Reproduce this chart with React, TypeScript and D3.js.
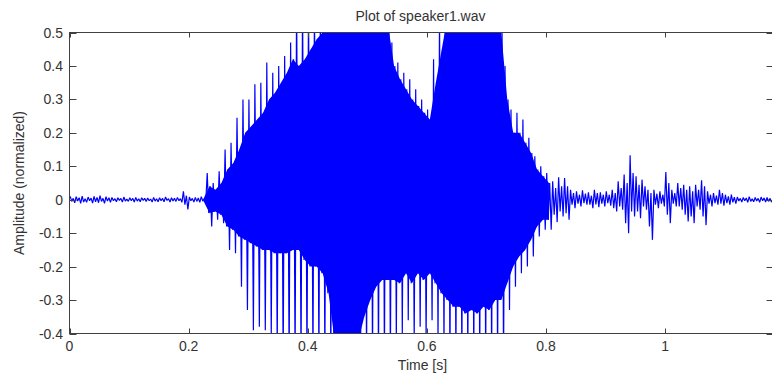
import React from "react";
import * as d3 from "d3";

// Envelope of the waveform, per 10 ms bin:
// outer max/min (spike tips) and inner max/min (edge of the solid body) in each bin
const BIN = 0.01;
const peakHi = [
  0.010, 0.009, 0.011, 0.008, 0.010, 0.012, 0.009,
  0.007, 0.006, 0.008, 0.006, 0.007, 0.006, 0.005, 0.007, 0.006, 0.008, 0.006, 0.007,
  0.025,
  0.008, 0.007, 0.009,
  0.08, 0.05, 0.085, 0.15, 0.17, 0.245, 0.30, 0.30, 0.345, 0.35, 0.41, 0.38, 0.40, 0.43, 0.47,
  0.6, 0.6, 0.6, 0.6, 0.6, 0.6, 0.6, 0.6, 0.6, 0.6, 0.6, 0.6, 0.6, 0.6, 0.6, 0.6,
  0.47, 0.41, 0.38, 0.36, 0.33, 0.30, 0.27, 0.42, 0.55,
  0.6, 0.6, 0.6, 0.6, 0.6, 0.6, 0.6, 0.6, 0.6, 0.6,
  0.40, 0.27, 0.26, 0.24, 0.185, 0.13, 0.10, 0.08, 0.055, 0.067, 0.065, 0.03, 0.025, 0.028,
  0.022, 0.03, 0.022, 0.025, 0.03, 0.055, 0.075, 0.133, 0.07, 0.06, 0.03, 0.03, 0.025,
  0.083, 0.03, 0.05, 0.045, 0.04, 0.045, 0.058, 0.025, 0.02, 0.03, 0.015, 0.015,
  0.008, 0.007, 0.009, 0.007, 0.008, 0.007,
];
const peakLo = [
  -0.009, -0.011, -0.008, -0.010, -0.009, -0.011, -0.008,
  -0.006, -0.007, -0.005, -0.007, -0.006, -0.005, -0.007, -0.006, -0.006, -0.007, -0.005, -0.008,
  -0.029,
  -0.007, -0.008, -0.007,
  -0.08, -0.06, -0.07, -0.15, -0.16, -0.26, -0.33, -0.39, -0.38, -0.39, -0.41, -0.45, -0.5, -0.5, -0.5,
  -0.5, -0.5, -0.5, -0.5, -0.5, -0.5, -0.5, -0.5, -0.5, -0.5, -0.5, -0.5, -0.5, -0.5, -0.5, -0.5,
  -0.42, -0.40, -0.36, -0.42, -0.38, -0.42, -0.36, -0.42, -0.45,
  -0.5, -0.5, -0.5, -0.5, -0.5, -0.5, -0.5, -0.5, -0.5, -0.5,
  -0.33, -0.26, -0.22, -0.20, -0.17, -0.11, -0.09, -0.09, -0.067, -0.05, -0.06, -0.025, -0.02, -0.015,
  -0.025, -0.022, -0.02, -0.018, -0.035, -0.03, -0.10, -0.05, -0.055, -0.03, -0.12, -0.025, -0.02,
  -0.07, -0.02, -0.03, -0.065, -0.07, -0.03, -0.076, -0.02, -0.015, -0.018, -0.015, -0.012,
  -0.007, -0.008, -0.006, -0.008, -0.007, -0.008,
];
const innerHi = [
  0.004, 0.006, 0.003, 0.005, 0.007, 0.004, 0.006,
  0.003, 0.004, 0.002, 0.004, 0.003, 0.004, 0.002, 0.003, 0.004, 0.003, 0.004, 0.003,
  0.012,
  0.004, 0.005, 0.003,
  0.04, 0.03, 0.05, 0.09, 0.11, 0.15, 0.2, 0.22, 0.24, 0.26, 0.3, 0.32, 0.35, 0.38, 0.42,
  0.4, 0.42, 0.45, 0.48, 0.5, 0.55, 0.6, 0.6, 0.6, 0.6, 0.6, 0.6, 0.6, 0.6, 0.6, 0.52,
  0.4, 0.36, 0.33, 0.3, 0.28, 0.26, 0.24, 0.35, 0.45,
  0.55, 0.6, 0.6, 0.6, 0.6, 0.6, 0.6, 0.55, 0.6, 0.5,
  0.3, 0.2, 0.2, 0.17, 0.14, 0.09, 0.07, 0.05, 0.035, 0.04,
  0.04, 0.02, 0.015, 0.018, 0.012, 0.02, 0.015, 0.015, 0.02, 0.035,
  0.05, 0.08, 0.045, 0.04, 0.02, 0.018, 0.015, 0.05, 0.02, 0.035,
  0.03, 0.025, 0.03, 0.04, 0.015, 0.012, 0.02, 0.01, 0.008,
  0.004, 0.005, 0.003, 0.004, 0.005, 0.004,
];
const innerLo = [
  -0.005, -0.004, -0.007, -0.003, -0.006, -0.005, -0.004,
  -0.003, -0.002, -0.004, -0.003, -0.004, -0.002, -0.003, -0.004, -0.003, -0.002, -0.004, -0.003,
  -0.015,
  -0.003, -0.005, -0.004,
  -0.04, -0.035, -0.045, -0.08, -0.09, -0.11, -0.12, -0.13, -0.14, -0.15, -0.15, -0.16, -0.16, -0.16, -0.15,
  -0.15, -0.18, -0.2, -0.2, -0.22, -0.28, -0.42, -0.45, -0.45, -0.45, -0.42, -0.35, -0.3, -0.26, -0.24, -0.24,
  -0.24, -0.25, -0.22, -0.25, -0.22, -0.24, -0.22, -0.25, -0.28,
  -0.3, -0.32, -0.32, -0.34, -0.33, -0.34, -0.32, -0.33, -0.3, -0.3,
  -0.25, -0.2, -0.17, -0.15, -0.12, -0.08, -0.06, -0.06, -0.045, -0.035,
  -0.04, -0.015, -0.012, -0.01, -0.015, -0.014, -0.012, -0.01, -0.025, -0.02,
  -0.07, -0.035, -0.035, -0.02, -0.08, -0.015, -0.012, -0.045, -0.012, -0.02,
  -0.045, -0.05, -0.02, -0.05, -0.012, -0.01, -0.012, -0.01, -0.008,
  -0.004, -0.003, -0.005, -0.004, -0.003, -0.005,
];
// bins of the voiced part, where the waveform forms a solid body
const VOICED_FIRST_BIN = 22;
const VOICED_LAST_BIN = 80;

const xTicks = [0, 0.2, 0.4, 0.6, 0.8, 1];
const xTickLabels = ["0", "0.2", "0.4", "0.6", "0.8", "1"];
const yTicks = [0.5, 0.4, 0.3, 0.2, 0.1, 0, -0.1, -0.2, -0.3, -0.4];
const yTickLabels = ["0.5", "0.4", "0.3", "0.2", "0.1", "0", "-0.1", "-0.2", "-0.3", "-0.4"];

const TITLE = "Plot of speaker1.wav";
const XLABEL = "Time [s]";
const YLABEL = "Amplitude (normalized)";

const W = 772;
const H = 377;
const FONT = "'Liberation Sans', Arial, Helvetica, sans-serif";
const AX = "#404040";
const TXT = "#333333";
const BLUE = "#0000ff";

export default function App() {
  const x = d3.scaleLinear().domain([0, 1.182]).range([69.5, 773.5]);
  const y = d3.scaleLinear().domain([-0.4, 0.5]).range([333.5, 32.5]);

  const zig: [number, number][] = [];
  peakHi.forEach((hi, i) => {
    zig.push([i * BIN + BIN * 0.125, hi]);
    zig.push([i * BIN + BIN * 0.375, innerLo[i]]);
    zig.push([i * BIN + BIN * 0.625, innerHi[i]]);
    zig.push([i * BIN + BIN * 0.875, peakLo[i]]);
  });
  const line = d3
    .line<[number, number]>()
    .x((d) => x(d[0]))
    .y((d) => y(d[1]));

  const body = innerHi
    .map((hi, i) => ({ i, t: i * BIN + BIN * 0.5, hi, lo: innerLo[i] }))
    .filter((d) => d.i >= VOICED_FIRST_BIN && d.i <= VOICED_LAST_BIN);
  const area = d3
    .area<{ t: number; hi: number; lo: number }>()
    .x((d) => x(d.t))
    .y0((d) => y(d.lo))
    .y1((d) => y(d.hi));

  const [x0, x1] = x.range();
  const [yb, yt] = y.range();
  const xTickLen = 5;
  const yTickLen = 7;

  return (
    <svg
      width={W}
      height={H}
      style={{ position: "absolute", left: 0, top: 0, background: "#fff" }}
      fontFamily={FONT}
    >
      <defs>
        <clipPath id="plotclip">
          <rect x={x0} y={yt} width={x1 - x0} height={yb - yt} />
        </clipPath>
      </defs>
      <rect x={0} y={0} width={W} height={H} fill="#fff" />
      <g clipPath="url(#plotclip)">
        <path d={area(body) || ""} fill={BLUE} stroke="none" />
        <path d={line(zig) || ""} fill="none" stroke={BLUE} strokeWidth={1.2} strokeLinejoin="miter" strokeMiterlimit={1} />
      </g>
      <rect x={x0} y={yt} width={x1 - x0} height={yb - yt} fill="none" stroke={AX} strokeWidth={1} />
      {xTicks.map((t, i) => (
        <g key={"xt" + i}>
          <line x1={Math.round(x(t)) + 0.5} x2={Math.round(x(t)) + 0.5} y1={yb} y2={yb - xTickLen} stroke={AX} />
          <line x1={Math.round(x(t)) + 0.5} x2={Math.round(x(t)) + 0.5} y1={yt} y2={yt + xTickLen} stroke={AX} />
          <text x={x(t)} y={351} textAnchor="middle" fontSize={14} fill={TXT}>
            {xTickLabels[i]}
          </text>
        </g>
      ))}
      {yTicks.map((v, i) => (
        <g key={"yt" + i}>
          <line x1={x0} x2={x0 + yTickLen} y1={Math.round(y(v)) + 0.5} y2={Math.round(y(v)) + 0.5} stroke={AX} />
          <line x1={x1} x2={x1 - yTickLen} y1={Math.round(y(v)) + 0.5} y2={Math.round(y(v)) + 0.5} stroke={AX} />
          <text x={63} y={y(v)} dy="0.36em" textAnchor="end" fontSize={14} fill={TXT}>
            {yTickLabels[i]}
          </text>
        </g>
      ))}
      <text x={(x0 + x1) / 2 - 1} y={21} textAnchor="middle" fontSize={14} fill={TXT}>
        {TITLE}
      </text>
      <text x={(x0 + x1) / 2 + 1} y={370} textAnchor="middle" fontSize={14} fill={TXT}>
        {XLABEL}
      </text>
      <text
        transform={`translate(24, ${(yt + yb) / 2}) rotate(-90)`}
        textAnchor="middle"
        fontSize={14}
        fill={TXT}
      >
        {YLABEL}
      </text>
    </svg>
  );
}
